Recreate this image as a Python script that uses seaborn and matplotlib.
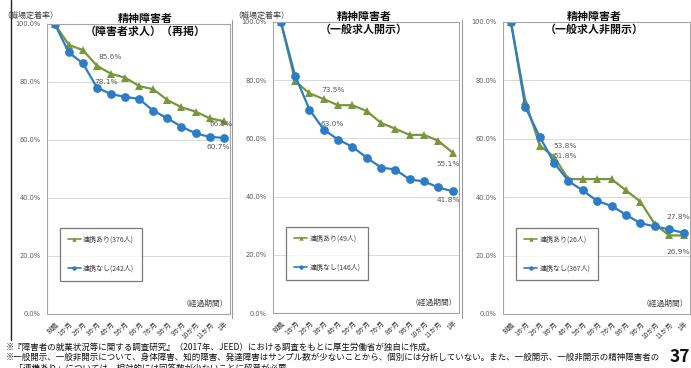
import matplotlib
matplotlib.use("Agg")
import matplotlib.pyplot as plt
import pandas as pd
import seaborn as sns
from matplotlib.lines import Line2D

# 経過期間
periods = ["就職", "1か月", "2か月", "3か月", "4か月", "5か月", "6か月",
           "7か月", "8か月", "9か月", "10か月", "11か月", "1年"]

# 職場定着率（%）
shogai_ari = [100, 92.8, 91.0, 85.6, 82.8, 81.5, 78.6, 77.5, 73.8, 71.3, 69.8, 67.5, 66.5]
shogai_nashi = [100, 90.2, 86.4, 78.1, 75.8, 74.9, 74.1, 70.1, 67.5, 64.6, 62.3, 61.1, 60.7]
kaiji_ari = [100, 79.6, 75.5, 73.5, 71.4, 71.4, 69.4, 65.3, 63.3, 61.2, 61.2, 59.2, 55.1]
kaiji_nashi = [100, 81.5, 69.9, 63.0, 59.6, 57.1, 53.4, 50.0, 49.3, 45.9, 45.2, 43.2, 41.8]
hikaiji_ari = [100, 73.1, 57.7, 53.8, 46.2, 46.2, 46.2, 46.2, 42.3, 38.5, 30.8, 26.9, 26.9]
hikaiji_nashi = [100, 70.9, 60.7, 51.8, 45.5, 42.3, 38.7, 37.0, 34.0, 31.1, 30.0, 29.0, 27.8]

titles = ["精神障害者\n（障害者求人）（再掲）", "精神障害者\n（一般求人開示）", "精神障害者\n（一般求人非開示）"]
legend_ari = ["連携あり(376人)", "連携あり(49人)", "連携あり(26人)"]
legend_nashi = ["連携なし(242人)", "連携なし(146人)", "連携なし(367人)"]
series_ari = [shogai_ari, kaiji_ari, hikaiji_ari]
series_nashi = [shogai_nashi, kaiji_nashi, hikaiji_nashi]

# which points get a value label: (series, index, dx px, dy px)
value_labels = [
    [("ari", 3, 13, 9), ("nashi", 3, 9, 6), ("ari", 12, -3, -3), ("nashi", 12, -5, -9)],
    [("ari", 3, 9, 9), ("nashi", 3, 8, 6), ("ari", 12, -4, -11), ("nashi", 12, -4, -9)],
    [("ari", 3, 11, 11), ("nashi", 3, 11, 7), ("nashi", 12, -5, 16), ("ari", 12, -5, -17)],
]

GREEN = "#77973A"
BLUE = "#2C7CC6"
GREY_TXT = "#595959"

sns.set_style("white")
plt.rcParams["font.family"] = ["Noto Sans CJK JP", "DejaVu Sans"]

W, H = 691, 368
fig = plt.figure(figsize=(W / 100, H / 100), dpi=100)


def px_axes(x0, y0, x1, y1):
    return fig.add_axes([x0 / W, 1 - y1 / H, (x1 - x0) / W, (y1 - y0) / H])


boxes = [(47, 24, 230, 314), (273, 22, 459, 313), (503, 22, 690, 314)]
title_x = [0.535, 0.49, 0.49]
show_ylabel = [True, True, False]
ylabel_pos = [(30, 15), (261, 15)]

for k, (x0, y0, x1, y1) in enumerate(boxes):
    ax = px_axes(x0, y0, x1, y1)
    df = pd.DataFrame({
        "step": list(range(len(periods))) * 2,
        "rate": series_ari[k] + series_nashi[k],
        "group": ["ari"] * len(periods) + ["nashi"] * len(periods),
    })
    sns.lineplot(data=df, x="step", y="rate", hue="group", style="group",
                 palette={"ari": GREEN, "nashi": BLUE},
                 markers={"ari": "^", "nashi": "o"}, dashes=False,
                 linewidth=1.6, markersize=6.3, markeredgewidth=0,
                 legend=False, ax=ax)

    ax.set_xlim(-0.55, 12.45)
    ax.set_ylim(0, 100)
    ax.set_yticks([0, 20, 40, 60, 80, 100])
    ax.set_yticklabels([f"{v:.1f}%" for v in [0, 20, 40, 60, 80, 100]],
                       fontsize=4.8, color=GREY_TXT, family="DejaVu Sans")
    ax.set_xticks(range(len(periods)))
    ax.set_xticklabels(periods, rotation=45, ha="right", rotation_mode="anchor",
                       fontsize=4.8, color="#404040")
    ax.tick_params(axis="both", length=2.5, width=0.6, color="#a0a0a0", pad=2)
    ax.set_xlabel("")
    ax.set_ylabel("")
    for g in [20, 40, 60, 80]:
        ax.axhline(g, color="#d9d9d9", lw=0.7, zorder=0)
    for s in ax.spines.values():
        s.set_color("#a6a6a6")
        s.set_linewidth(0.8)

    ax.text(title_x[k], 0.995, titles[k], transform=ax.transAxes, ha="center",
            va="center", fontsize=7.9, fontweight="bold", color="#111111",
            linespacing=1.3)
    ax.text(0.99, 0.02, "（経過期間）", transform=ax.transAxes, ha="right",
            va="bottom", fontsize=5.6, color="#404040")

    for ser, idx, dx, dy in value_labels[k]:
        vals = series_ari[k] if ser == "ari" else series_nashi[k]
        ax.annotate(f"{vals[idx]:.1f}%", (idx, vals[idx]), xytext=(dx, dy),
                    textcoords="offset pixels", ha="center", va="center",
                    fontsize=5.3, color=GREY_TXT, family="DejaVu Sans")

    handles = [
        Line2D([], [], color=GREEN, marker="^", markersize=3.2, lw=1.2, markeredgewidth=0),
        Line2D([], [], color=BLUE, marker="o", markersize=3.2, lw=1.2, markeredgewidth=0),
    ]
    leg = ax.legend(handles, [legend_ari[k], legend_nashi[k]], loc="lower left",
                    bbox_to_anchor=(0.07, 0.115), fontsize=5, frameon=True,
                    fancybox=False, edgecolor="#595959", labelspacing=3.0,
                    handlelength=1.9, borderpad=1.15, handletextpad=0.3,
                    borderaxespad=0)
    leg.get_frame().set_linewidth(0.9)
    for t in leg.get_texts():
        t.set_color("#404040")

    if show_ylabel[k]:
        lx, ly = ylabel_pos[k]
        fig.text(lx / W, 1 - ly / H, "（職場定着率）", ha="center", va="center",
                 fontsize=5.8, color="#404040")

# chart-area borders
fig.add_artist(Line2D([11 / W, 11 / W], [1 - 340 / H, 1.0], color="#222222", lw=1.0))
for xs in [232, 462]:
    fig.add_artist(Line2D([xs / W, xs / W], [1 - 318 / H, 1 - 20 / H], color="#9a9a9a", lw=0.8))

notes = [
    "※『障害者の就業状況等に関する調査研究』（2017年、JEED）における調査をもとに厚生労働省が独自に作成。",
    "※一般開示、一般非開示について、身体障害、知的障害、発達障害はサンプル数が少ないことから、個別には分析していない。また、一般開示、一般非開示の精神障害者の",
    "　「連携あり」については、相対的には回答数が少ないことに留意が必要。",
]
for i, line in enumerate(notes):
    fig.text(6 / W, 1 - (347 + 10.5 * i) / H, line, ha="left", va="center",
             fontsize=6.1, color="#111111")

fig.text(680 / W, 1 - 357 / H, "37", ha="center", va="center", fontsize=12.5,
         fontweight="bold", color="#111111")

fig.savefig("out.png", dpi=100)
